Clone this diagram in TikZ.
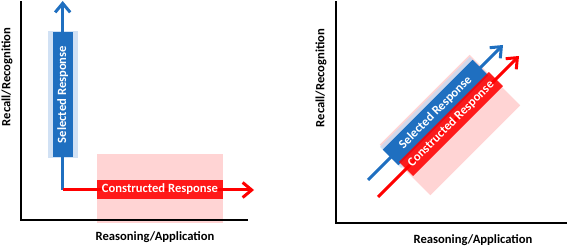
\documentclass[tikz,border=0pt]{standalone}
\usepackage{fontspec}
\setmainfont{Carlito}
\usetikzlibrary{arrows.meta}
\definecolor{myblue}{HTML}{1F6FC0}
\definecolor{myred}{HTML}{FF0000}
\definecolor{pinkbg}{HTML}{FFCCCC}
\definecolor{halocol}{HTML}{C6D9F1}
\begin{document}
\begin{tikzpicture}[x=1pt,y=1pt,
  axis/.style={line width=2.2pt, black, line cap=rect},
  lbl/.style={font=\fontsize{12.6}{14}\selectfont\bfseries, inner sep=0pt},
  boxtxt/.style={font=\fontsize{12.6}{14}\selectfont\bfseries, text=white, inner sep=0pt},
  arr/.style={line width=3pt, -{Straight Barb[length=9pt,width=15pt]}},
  pinkbox/.style={fill=pinkbg, opacity=0.85, inner sep=0pt},
  halobox/.style={fill=halocol, opacity=0.8, inner sep=0pt},
  bluebox/.style={boxtxt, fill=myblue},
  redbox/.style={boxtxt, fill=myred, fill opacity=0.88, text opacity=1}
]
\useasboundingbox (0,0) rectangle (567,246);

% ---------- left panel ----------
\node[pinkbox, minimum width=126pt, minimum height=69pt] (pinkL) at (160,57.5) {};
\coordinate (yL) at (20.7,244);
\coordinate (xL) at (247,26);
\draw[axis] (yL) |- (xL);
\node[lbl, rotate=90] (ylabL) at (7,169) {Recall/Recognition};
\node[lbl] (xlabL) at (155,9) {Reasoning/Application};

\node[halobox, minimum width=127pt, minimum height=30pt, rotate=90] (haloL) at (62.7,151.5) {};

\coordinate (cornerL) at (62.7,56);
\coordinate (btipL) at (62.7,245);
\coordinate (rtipL) at (254,56);
\draw[arr, myblue] (cornerL) -- (btipL);
\draw[arr, myred] (cornerL) -- (rtipL);

\node[bluebox, minimum width=125pt, minimum height=20pt, rotate=90] (selL) at (62.7,151.5) {Selected Response};
\node[redbox, minimum width=126pt, minimum height=19pt] (conL) at (160,56.5) {Constructed Response};

% ---------- right panel ----------
\coordinate (yR) at (336.3,244);
\coordinate (xR) at (566,23);
\draw[axis] (yR) |- (xR);
\node[lbl, rotate=90] (ylabR) at (321,168) {Recall/Recognition};
\node[lbl] (xlabR) at (473,6) {Reasoning/Application};

\node[pinkbox, minimum width=127pt, minimum height=71.5pt, rotate=45] (pinkR) at (450,121) {};
\node[halobox, minimum width=127pt, minimum height=30pt, rotate=45] (haloR) at (435.5,133.5) {};

\coordinate (bsR) at (368,66);
\coordinate (btR) at (503,201);
\draw[arr, myblue] (bsR) -- (btR);
\node[bluebox, minimum width=127pt, minimum height=22pt, rotate=45] (selR) at (435.5,133.5) {Selected Response};

\coordinate (rsR) at (378,49);
\coordinate (rtR) at (519,190);
\draw[arr, myred] (rsR) -- (rtR);
\node[redbox, minimum width=127pt, minimum height=20pt, rotate=45] (conR) at (451,122) {Constructed Response};
\end{tikzpicture}
\end{document}
